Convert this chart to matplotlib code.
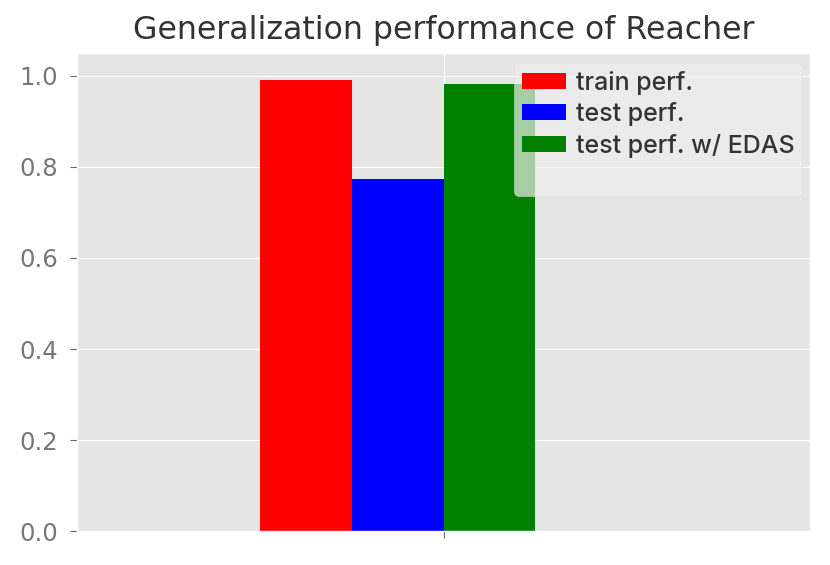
import matplotlib
matplotlib.use("Agg")
import matplotlib.pyplot as plt
from matplotlib.patches import Patch

plt.style.use("ggplot")

labels = ["train perf.", "test perf.", "test perf. w/ EDAS"]
values = [0.991, 0.774, 0.982]
colors = ["red", "blue", "green"]
title = "Generalization performance of Reacher"

fig = plt.figure(figsize=(8.3, 5.65), dpi=100)
ax = fig.add_axes([0.093, 0.060, 0.883, 0.846])

w = 0.25
offsets = [-2, -1, 0]
for lab, v, c, o in zip(labels, values, colors, offsets):
    ax.bar(o * w, v, width=w, align="edge", color=c, label=lab)

ax.set_xlim(-1, 1)
ax.set_ylim(0, 1.05)
ax.set_xticks([0])
ax.set_xticklabels([""])
ax.set_yticks([0, 0.2, 0.4, 0.6, 0.8, 1.0])
ax.tick_params(axis="y", labelsize=17.5, colors="#666666", labelcolor="#777777",
               length=5, pad=9)
ax.tick_params(axis="x", colors="#666666", length=5)
ax.set_title(title, fontsize=22.7, color="#333333", pad=10)

handles, labs = ax.get_legend_handles_labels()
handles.append(Patch(facecolor="none", edgecolor="none"))
labs.append(" ")
leg = ax.legend(handles, labs, loc="upper right", bbox_to_anchor=(0.989, 0.979),
                prop={"family": "Inter", "size": 18, "weight": "medium"},
                framealpha=0.7, facecolor="#eeeeee", edgecolor="#dddddd",
                handlelength=1.76, handleheight=0.6, labelspacing=0.3,
                borderaxespad=0.0, borderpad=0.3, handletextpad=0.4)
for t in leg.get_texts():
    t.set_color("#333333")

fig.savefig("out.png", dpi=100)
